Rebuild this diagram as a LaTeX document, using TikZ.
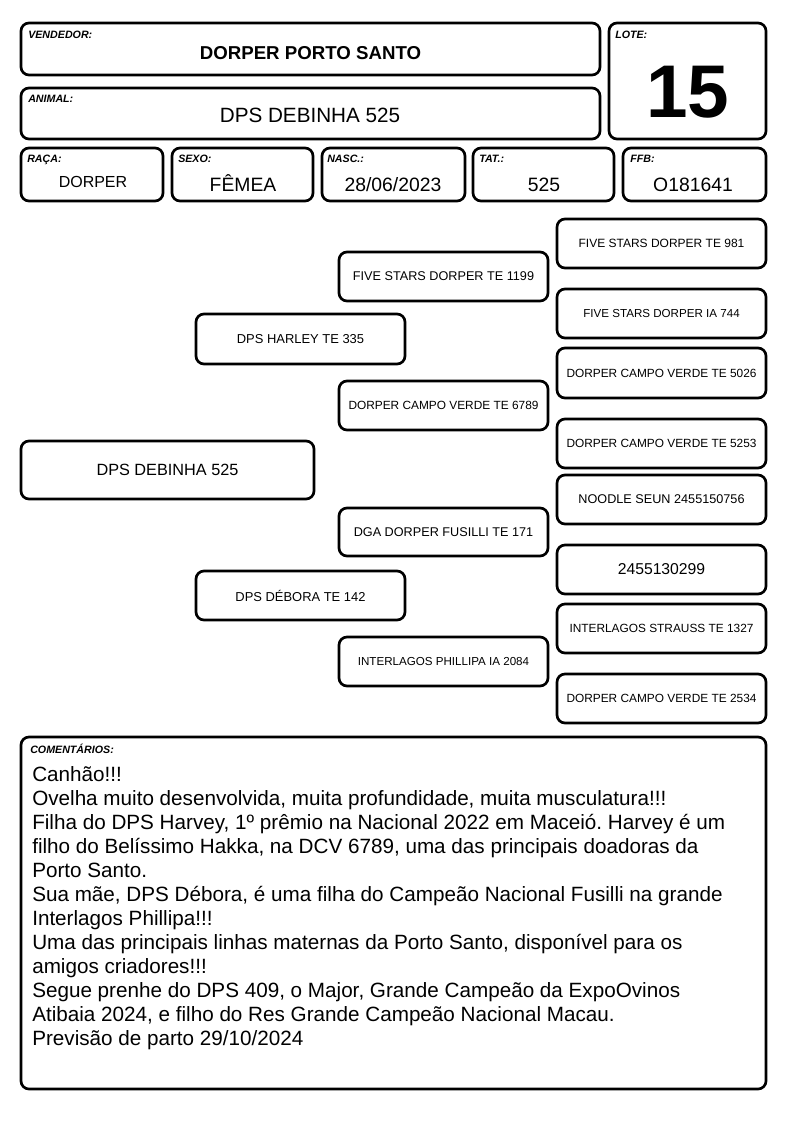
\documentclass[tikz,border=0pt]{standalone}
\usepackage{fontspec}
\setmainfont{Liberation Sans}
\frenchspacing
\newcommand\fs[1]{\fontsize{#1pt}{#1pt}\selectfont}
\tikzset{
  box/.style={draw, line width=2pt, rounded corners=6pt, inner sep=0pt, fill=white},
  lbl/.style={anchor=base west, inner sep=0pt, font=\fs{8}\bfseries\itshape},
  val/.style={anchor=base, inner sep=0pt},
  cmt/.style={anchor=base west, inner sep=0pt, font=\fs{15.5}},
}
\newcommand\bx[6]{\node[box, minimum width={(#4-#2)*0.75pt}, minimum height={(#5-#3)*0.75pt}] (#1) at ({(#2+#4)/2},{(#3+#5)/2}) {#6};}
\begin{document}
\begin{tikzpicture}[x=0.75pt,y=-0.75pt]
\useasboundingbox[fill=white] (0,0) rectangle (794,1123);
% header
\bx{vend}{21}{23}{600}{75}{}
\node[lbl] (vendl) at (28,39) {VENDEDOR:};
\node[val, font=\fs{14}\bfseries] (vendv) at (310.5,60) {DORPER PORTO SANTO};
\bx{anim}{21}{88}{600}{139}{}
\node[lbl] (animl) at (28,103) {ANIMAL:};
\node[val, font=\fs{15.5}] (animv) at (310,123) {DPS DEBINHA 525};
\bx{lote}{609}{23}{766}{139}{}
\node[lbl] (lotel) at (615,39) {LOTE:};
\node[val, font=\fs{56}\bfseries] (lotev) at (688,118) {15};
% fields
\bx{raca}{21}{148}{163}{201}{}
\node[lbl] (racal) at (27,163) {RAÇA:};
\node[val, font=\fs{12}] (racav) at (93,188) {DORPER};
\bx{sexo}{172}{148}{313}{201}{}
\node[lbl] (sexol) at (178,163) {SEXO:};
\node[val, font=\fs{14.5}] (sexov) at (243,192) {FÊMEA};
\bx{nasc}{322}{148}{465}{201}{}
\node[lbl] (nascl) at (327,163) {NASC.:};
\node[val, font=\fs{14.5}] (nascv) at (393,192) {28/06/2023};
\bx{tat}{473}{148}{614}{201}{}
\node[lbl] (tatl) at (479,163) {TAT.:};
\node[val, font=\fs{14.5}] (tatv) at (544,192) {525};
\bx{ffb}{623}{148}{766}{201}{}
\node[lbl] (ffbl) at (630,163) {FFB:};
\node[val, font=\fs{14.5}] (ffbv) at (693,192) {O181641};
% pedigree
\bx{g1}{21}{441}{314}{499}{\fs{12.2}DPS DEBINHA 525}
\bx{g2a}{196}{314}{405}{364}{\fs{9.7}DPS HARLEY TE 335}
\bx{g2b}{196}{571}{405}{620}{\fs{9.7}DPS DÉBORA TE 142}
\bx{g3a}{339}{252}{548}{301}{\fs{9.5}FIVE STARS DORPER TE 1199}
\bx{g3b}{339}{381}{548}{430}{\fs{8.9}DORPER CAMPO VERDE TE 6789}
\bx{g3c}{339}{508}{548}{556}{\fs{9.5}DGA DORPER FUSILLI TE 171}
\bx{g3d}{339}{637}{548}{686}{\fs{8.7}INTERLAGOS PHILLIPA IA 2084}
\bx{g4a}{557}{219}{766}{268}{\fs{9}FIVE STARS DORPER TE 981}
\bx{g4b}{557}{289}{766}{338}{\fs{8.7}FIVE STARS DORPER IA 744}
\bx{g4c}{557}{348}{766}{398}{\fs{8.9}DORPER CAMPO VERDE TE 5026}
\bx{g4d}{557}{419}{766}{468}{\fs{8.9}DORPER CAMPO VERDE TE 5253}
\bx{g4e}{557}{475}{766}{524}{\fs{9.5}NOODLE SEUN 2455150756}
\bx{g4f}{557}{545}{766}{594}{\fs{11.8}2455130299}
\bx{g4g}{557}{604}{766}{653}{\fs{8.9}INTERLAGOS STRAUSS TE 1327}
\bx{g4h}{557}{674}{766}{723}{\fs{8.9}DORPER CAMPO VERDE TE 2534}
% comments
\bx{com}{21}{737}{766}{1089}{}
\node[lbl] (coml) at (30,753) {COMENTÁRIOS:};
\foreach \t [count=\i] in {
  {Canhão!!!},
  {Ovelha muito desenvolvida, muita profundidade, muita musculatura!!!},
  {Filha do DPS Harvey, 1º prêmio na Nacional 2022 em Maceió. Harvey é um},
  {filho do Belíssimo Hakka, na DCV 6789, uma das principais doadoras da},
  {Porto Santo.},
  {Sua mãe, DPS Débora, é uma filha do Campeão Nacional Fusilli na grande},
  {Interlagos Phillipa!!!},
  {Uma das principais linhas maternas da Porto Santo, disponível para os},
  {amigos criadores!!!},
  {Segue prenhe do DPS 409, o Major, Grande Campeão da ExpoOvinos},
  {Atibaia 2024, e filho do Res Grande Campeão Nacional Macau.},
  {Previsão de parto 29/10/2024}}
  {\node[cmt] (c\i) at (32,{781+24*(\i-1)}) {\t};}
\end{tikzpicture}
\end{document}
